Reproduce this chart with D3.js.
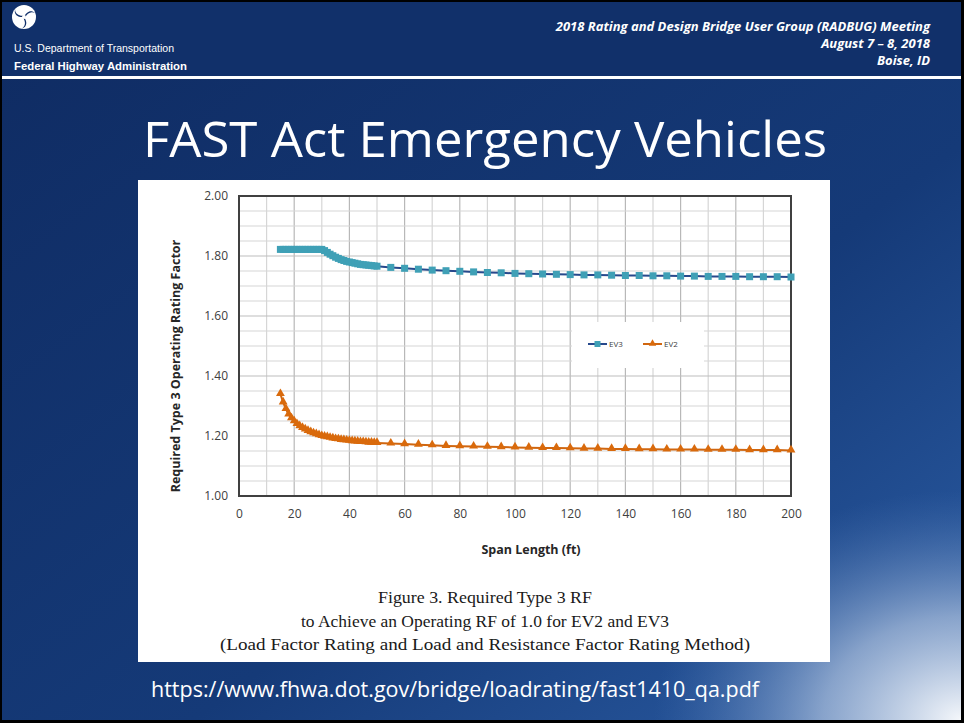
<!DOCTYPE html>
<html>
<head>
<meta charset="utf-8">
<script src="https://cdn.jsdelivr.net/npm/d3@7"></script>
<style>
  html, body { margin: 0; padding: 0; background: #000; }
  svg { display: block; }
</style>
</head>
<body>
<div id="slide"></div>
<script>
// données
var spans = [15,16,17,18,19,20,21,22,23,24,25,26,27,28,29,30,31,32,33,34,35,36,37,38,39,40,
  41,42,43,44,45,46,47,48,49,50,55,60,65,70,75,80,85,90,95,100,105,110,115,120,125,130,
  135,140,145,150,155,160,165,170,175,180,185,190,195,200];

var ev3 = [1.822,1.822,1.822,1.822,1.822,1.822,1.822,1.822,1.822,1.822,1.822,1.822,1.822,1.822,1.822,1.822,
  1.818,1.812,1.806,1.801,1.796,1.792,1.788,1.785,1.782,1.780,1.778,1.776,1.774,1.772,1.771,1.770,1.769,1.768,1.767,1.766,
  1.762,1.759,1.756,1.753,1.751,1.749,1.747,1.745,1.744,1.742,1.741,1.740,1.739,1.738,1.737,1.737,
  1.736,1.735,1.735,1.734,1.734,1.733,1.733,1.732,1.732,1.732,1.731,1.731,1.731,1.730];

var ev2 = [1.340,1.312,1.290,1.272,1.259,1.249,1.240,1.233,1.227,1.222,1.217,1.213,1.209,1.206,1.203,1.200,
  1.198,1.196,1.194,1.192,1.190,1.189,1.187,1.186,1.185,1.184,1.183,1.182,1.181,1.180,1.180,1.179,1.178,1.178,1.177,1.177,
  1.175,1.173,1.171,1.169,1.167,1.166,1.165,1.164,1.163,1.162,1.161,1.160,1.160,1.159,1.158,1.158,
  1.157,1.157,1.156,1.156,1.155,1.155,1.155,1.154,1.154,1.154,1.153,1.153,1.153,1.152];

var xTicks = [0,20,40,60,80,100,120,140,160,180,200];
var yTicks = [1.00,1.20,1.40,1.60,1.80,2.00];
var seriesNames = ["EV3","EV2"];

var headerRight = ["2018 Rating and Design Bridge User Group (RADBUG) Meeting", "August 7 \u2013 8, 2018", "Boise, ID"];
var caption = ["Figure 3. Required Type 3 RF",
  "to Achieve an Operating RF of 1.0 for EV2 and EV3",
  "(Load Factor Rating and Load and Resistance Factor Rating Method)"];
var captionWidths = [214, 368, 530];

var W = 964, H = 723;
var svg = d3.select("#slide").append("svg")
  .attr("width", W).attr("height", H);

var defs = svg.append("defs");
var lg = defs.append("linearGradient").attr("id", "bg")
  .attr("x1", "0").attr("y1", "0").attr("x2", "1").attr("y2", "1");
lg.append("stop").attr("offset", "0%").attr("stop-color", "#0f2b62");
lg.append("stop").attr("offset", "60%").attr("stop-color", "#153a78");
lg.append("stop").attr("offset", "100%").attr("stop-color", "#2c5ea6");
var rg = defs.append("radialGradient").attr("id", "glow")
  .attr("cx", "1").attr("cy", "1").attr("r", "0.32");
rg.append("stop").attr("offset", "0%").attr("stop-color", "#ffffff").attr("stop-opacity", 0.95);
rg.append("stop").attr("offset", "45%").attr("stop-color", "#c8d6ea").attr("stop-opacity", 0.6);
rg.append("stop").attr("offset", "100%").attr("stop-color", "#5a82bd").attr("stop-opacity", 0);

// fond du slide
svg.append("rect").attr("width", W).attr("height", H).attr("fill", "#000");
svg.append("rect").attr("x", 2).attr("y", 2).attr("width", W - 5).attr("height", H - 5).attr("fill", "url(#bg)");
svg.append("rect").attr("x", 2).attr("y", 2).attr("width", W - 5).attr("height", H - 5).attr("fill", "url(#glow)");
svg.append("rect").attr("x", 2).attr("y", 2).attr("width", W - 5).attr("height", 74).attr("fill", "#11306a");
svg.append("rect").attr("x", 2).attr("y", 76).attr("width", W - 5).attr("height", 3).attr("fill", "#ffffff");

// logo DOT
var logo = svg.append("g").attr("transform", "translate(24,17)");
logo.append("circle").attr("r", 12).attr("fill", "#fff");
[0, 120, 240].forEach(function(a) {
  logo.append("path")
    .attr("d", "M0,0 C2,-5 7,-8 11,-4 C7,-6 3,-4 1,1 Z")
    .attr("transform", "rotate(" + a + ")")
    .attr("fill", "#11306a");
});
logo.append("circle").attr("r", 2).attr("fill", "#fff");

svg.append("text").attr("x", 14).attr("y", 52)
  .attr("font-family", "Liberation Sans, Arial").attr("font-size", 11)
  .attr("textLength", 160).attr("lengthAdjust", "spacingAndGlyphs")
  .attr("fill", "#fff").text("U.S. Department of Transportation");
svg.append("text").attr("x", 14).attr("y", 70)
  .attr("font-family", "Liberation Sans, Arial").attr("font-size", 11).attr("font-weight", "bold")
  .attr("textLength", 173).attr("lengthAdjust", "spacingAndGlyphs")
  .attr("fill", "#fff").text("Federal Highway Administration");

svg.selectAll(".hdr").data(headerRight).enter().append("text")
  .attr("class", "hdr")
  .attr("x", 930).attr("y", function(d, i) { return 31 + i * 17; })
  .attr("text-anchor", "end")
  .attr("font-family", "Open Sans, sans-serif").attr("font-size", 13)
  .attr("font-style", "italic").attr("font-weight", "bold")
  .attr("fill", "#fff").text(function(d) { return d; });

svg.append("text").attr("x", 485).attr("y", 157)
  .attr("text-anchor", "middle")
  .attr("font-family", "Open Sans, sans-serif").attr("font-size", 50)
  .attr("textLength", 684).attr("lengthAdjust", "spacingAndGlyphs")
  .attr("fill", "#fff").text("FAST Act Emergency Vehicles");

// panneau blanc de la figure
svg.append("rect").attr("x", 138).attr("y", 180).attr("width", 692).attr("height", 482).attr("fill", "#fff");

var x = d3.scaleLinear().domain([0, 200]).range([239, 791]);
var y = d3.scaleLinear().domain([1, 2]).range([496, 196]);

var grid = svg.append("g");
grid.selectAll(".gx").data(d3.range(10, 200, 10)).enter().append("line")
  .attr("x1", function(d) { return x(d); }).attr("x2", function(d) { return x(d); })
  .attr("y1", y(1)).attr("y2", y(2))
  .attr("stroke", function(d) { return d % 20 == 0 ? "#b8b8b8" : "#d6d6d6"; })
  .attr("stroke-width", 1.2);
grid.selectAll(".gy").data(d3.range(1, 20)).enter().append("line")
  .attr("x1", x(0)).attr("x2", x(200))
  .attr("y1", function(d) { return y(1 + d * 0.05); }).attr("y2", function(d) { return y(1 + d * 0.05); })
  .attr("stroke", function(d) { return d % 4 == 0 ? "#bdbdbd" : "#d6d6d6"; })
  .attr("stroke-width", 1.2);

// cadre du graphique
svg.append("rect").attr("x", x(0)).attr("y", y(2)).attr("width", x(200) - x(0)).attr("height", y(1) - y(2))
  .attr("fill", "none").attr("stroke", "#404040").attr("stroke-width", 2);

var axisFont = "Open Sans, sans-serif";
var yAxis = svg.append("g").attr("transform", "translate(" + x(0) + ",0)")
  .call(d3.axisLeft(y).tickValues(yTicks).tickSize(0).tickPadding(11).tickFormat(d3.format(".2f")));
var xAxis = svg.append("g").attr("transform", "translate(0," + y(1) + ")")
  .call(d3.axisBottom(x).tickValues(xTicks).tickSize(0).tickPadding(13));
[yAxis, xAxis].forEach(function(a) {
  a.select(".domain").remove();
  a.selectAll("text").attr("font-family", axisFont).attr("font-size", 12).attr("fill", "#404040");
});

svg.append("text").attr("transform", "translate(180,366) rotate(-90)")
  .attr("text-anchor", "middle").attr("font-family", axisFont).attr("font-size", 12.5)
  .attr("font-weight", "bold").attr("fill", "#262626")
  .text("Required Type 3 Operating Rating Factor");
svg.append("text").attr("x", 531).attr("y", 554)
  .attr("text-anchor", "middle").attr("font-family", axisFont).attr("font-size", 12.5)
  .attr("font-weight", "bold").attr("fill", "#262626").text("Span Length (ft)");

// séries
var line = d3.line().x(function(d) { return x(d[0]); }).y(function(d) { return y(d[1]); });
var ev3Pts = d3.zip(spans, ev3), ev2Pts = d3.zip(spans, ev2);
var tri = d3.symbol().type(d3.symbolTriangle).size(34);

svg.append("path").attr("d", line(ev3Pts)).attr("fill", "none").attr("stroke", "#27498c").attr("stroke-width", 2);
svg.selectAll(".m3").data(ev3Pts).enter().append("rect")
  .attr("x", function(d) { return x(d[0]) - 3.5; }).attr("y", function(d) { return y(d[1]) - 3.5; })
  .attr("width", 7).attr("height", 7).attr("fill", "#3fa0b6");

svg.append("path").attr("d", line(ev2Pts)).attr("fill", "none").attr("stroke", "#d0660f").attr("stroke-width", 2);
svg.selectAll(".m2").data(ev2Pts).enter().append("path")
  .attr("d", tri).attr("transform", function(d) { return "translate(" + x(d[0]) + "," + (y(d[1]) - 0.5) + ")"; })
  .attr("fill", "#d96a0c");

// légende
var leg = svg.append("g");
leg.append("rect").attr("x", 572).attr("y", 322).attr("width", 132).attr("height", 46).attr("fill", "#fff");
seriesNames.forEach(function(n, i) {
  var lx = 588 + i * 55, ly = 344;
  var col = i == 0 ? "#27498c" : "#d0660f";
  leg.append("line").attr("x1", lx).attr("x2", lx + 19).attr("y1", ly).attr("y2", ly)
    .attr("stroke", col).attr("stroke-width", 2);
  if (i == 0) {
    leg.append("rect").attr("x", lx + 6.5).attr("y", ly - 3).attr("width", 6).attr("height", 6).attr("fill", "#3fa0b6");
  } else {
    leg.append("path").attr("d", d3.symbol().type(d3.symbolTriangle).size(24))
      .attr("transform", "translate(" + (lx + 9.5) + "," + (ly - 0.5) + ")").attr("fill", "#d96a0c");
  }
  leg.append("text").attr("x", lx + 21).attr("y", ly + 3)
    .attr("font-family", axisFont).attr("font-size", 8).attr("fill", "#404040").text(n);
});

// légende de la figure
svg.selectAll(".cap").data(caption).enter().append("text")
  .attr("x", 485).attr("y", function(d, i) { return 603 + i * 23.5; })
  .attr("text-anchor", "middle").attr("font-family", "Liberation Serif, serif").attr("font-size", 17.5)
  .attr("textLength", function(d, i) { return captionWidths[i]; }).attr("lengthAdjust", "spacingAndGlyphs")
  .attr("fill", "#1a1a1a").text(function(d) { return d; });

svg.append("text").attr("x", 455).attr("y", 697)
  .attr("text-anchor", "middle").attr("font-family", "Open Sans, sans-serif").attr("font-size", 21)
  .attr("textLength", 608).attr("lengthAdjust", "spacingAndGlyphs")
  .attr("fill", "#fff").text("https://www.fhwa.dot.gov/bridge/loadrating/fast1410_qa.pdf");
</script>
</body>
</html>
